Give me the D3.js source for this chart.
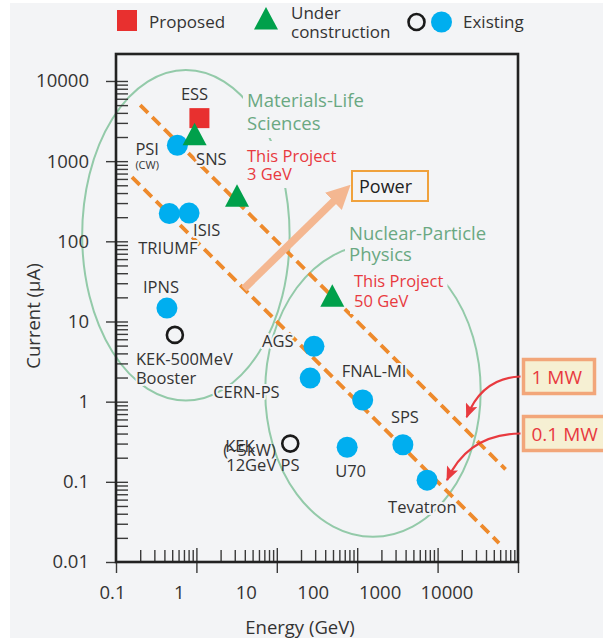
<!DOCTYPE html>
<html><head><meta charset="utf-8">
<script src="https://cdn.jsdelivr.net/npm/d3@7"></script>
<style>
body{margin:0;background:#fff}
svg{display:block}
text{font-family:"Open Sans","Noto Sans",sans-serif}
</style>
</head><body>
<svg id="chart" width="603" height="642"></svg>
<script>
// ---------------- DATA ----------------
// energy in GeV, current in microampere
const proposed = [{name:"ESS", energy:1.09, current:3440}];
const underConstruction = [
  {name:"SNS", energy:0.95, current:2170},
  {name:"J-PARC 3 GeV", energy:3.2, current:370},
  {name:"J-PARC 50 GeV", energy:49, current:21}
];
const existingFilled = [
  {name:"PSI", energy:0.58, current:1580},
  {name:"TRIUMF", energy:0.46, current:222},
  {name:"ISIS", energy:0.81, current:225},
  {name:"IPNS", energy:0.43, current:14.7},
  {name:"AGS", energy:29, current:4.9},
  {name:"CERN-PS", energy:26, current:1.97},
  {name:"FNAL-MI", energy:117, current:1.05},
  {name:"SPS", energy:370, current:0.29},
  {name:"U70", energy:75, current:0.27},
  {name:"Tevatron", energy:740, current:0.105}
];
const existingHollow = [
  {name:"KEK-500MeV Booster", energy:0.54, current:6.8},
  {name:"KEK-PS", energy:14.7, current:0.3}
];
const powerLevelsMW = [1, 0.1];
const powerLineSpanGeV = [[0.2, 7000], [0.158, 5800]];
const xTickValues = [0.1, 1, 10, 100, 1000, 10000];
const xTickLabels = ["0.1", "1", "10", "100", "1000", "10000"];
const yTickValues = [0.01, 0.1, 1, 10, 100, 1000, 10000];
const yTickLabels = ["0.01", "0.1", "1", "10", "100", "1000", "10000"];
const regions = [
  {name:"Materials-Life Sciences", energy:0.74, current:119, spanXDec:1.29, spanYDec:2.06},
  {name:"Nuclear-Particle Physics", energy:157, current:1.36, spanXDec:1.34, spanYDec:1.82}
];

// ---------------- LAYOUT / STYLE ----------------
const C = {
  bg:"#f3f4f6", ink:"#333", axis:"#222", blue:"#00aeef", green:"#00a04b", red:"#e8302f",
  orange:"#ee8a2c", ellipse:"#93caa9", greenText:"#6aa882", redText:"#e83a3f",
  powerArrow:"#f4b791", boxStroke:"#f2a67a", boxFill:"#f6f0d3"
};
const svg = d3.select("#chart");
const M = {left:116, right:518, top:54, bottom:562};
const x = d3.scaleLog().domain([0.1, 1e4]).range([M.left, M.right]);
const y = d3.scaleLog().domain([0.01, 21700]).range([M.bottom, M.top]);
// label row of the energy axis as printed in the figure
const xLab = d3.scaleLog().domain([0.1, 1e4]).range([112.5, 447]);

svg.append("rect").attr("x",10).attr("y",3).attr("width",593).attr("height",635).attr("fill",C.bg);

// defs for arrowheads
const defs = svg.append("defs");
defs.append("marker").attr("id","redHead").attr("viewBox","0 0 12 10").attr("refX",11).attr("refY",5)
  .attr("markerWidth",7).attr("markerHeight",5.5).attr("markerUnits","strokeWidth").attr("orient","auto")
  .append("path").attr("d","M0,0 L12,5 L0,10 L2.5,5 Z").attr("fill",C.redText);
defs.append("marker").attr("id","powHead").attr("viewBox","0 0 10 10").attr("refX",6).attr("refY",5)
  .attr("markerWidth",3.2).attr("markerHeight",3.2).attr("markerUnits","strokeWidth").attr("orient","auto")
  .append("path").attr("d","M0,0 L10,5 L0,10 Z").attr("fill",C.powerArrow);

// ---------------- ELLIPSES ----------------
svg.append("g").selectAll("ellipse").data(regions).join("ellipse")
  .attr("cx", d => x(d.energy)).attr("cy", d => y(d.current))
  .attr("rx", d => x(d.energy * Math.pow(10, d.spanXDec)) - x(d.energy))
  .attr("ry", d => y(d.current) - y(d.current * Math.pow(10, d.spanYDec)))
  .attr("fill","none").attr("stroke",C.ellipse).attr("stroke-width",2);

// ---------------- POWER LINES ----------------
const pLine = d3.line().x(d => x(d[0])).y(d => y(d[1]));
svg.append("g").selectAll("path").data(powerLevelsMW).join("path")
  .attr("d", (p,i) => pLine(powerLineSpanGeV[i].map(e => [e, p * 1000 / e])))
  .attr("fill","none").attr("stroke",C.orange).attr("stroke-width",3.8).attr("stroke-dasharray","11,6");

// power arrow
const powerArrow = [[3.9, 100/3.9], [68, 420]];
svg.append("path").attr("d", pLine(powerArrow)).attr("stroke",C.powerArrow).attr("stroke-width",7.5)
  .attr("fill","none").attr("marker-end","url(#powHead)");

// ---------------- TEXT BLOCKS WITH BACKGROUND ----------------
function block(lines, x0, y0, lh, size, color, pad){
  const g = svg.append("g");
  const r = g.append("rect").attr("fill",C.bg);
  const t = g.append("text").attr("x",x0).attr("y",y0).attr("font-size",size).attr("fill",color);
  lines.forEach((s,i) => t.append("tspan").attr("x",x0).attr("y",y0 + i*lh).text(s));
  const b = t.node().getBBox();
  r.attr("x",b.x-pad[0]).attr("y",b.y-pad[1]).attr("width",b.width+pad[0]*2).attr("height",b.height+pad[1]*2);
  return g;
}
block(["Materials-Life","Sciences"], 247, 107, 23, 18.5, C.greenText, [4,3]);
block(["This Project","3 GeV"], 247, 162, 18, 16.5, C.redText, [4,3]);
block(["Nuclear-Particle","Physics"], 349, 240, 21, 18.5, C.greenText, [4,3]);
block(["This Project","50 GeV"], 354, 287, 20, 16.5, C.redText, [4,2]);

// ---------------- POINT LABELS ----------------
const labelLayout = [
  {ref:"ESS", lines:["ESS"], dx:-18.5, dy:-18, halo:true},
  {ref:"PSI", lines:["PSI"], dx:-42, dy:10, halo:true},
  {ref:"SNS", lines:["SNS"], dx:1.5, dy:31, halo:true},
  {ref:"TRIUMF", lines:["TRIUMF"], dx:-31, dy:40, halo:true},
  {ref:"ISIS", lines:["ISIS"], dx:4, dy:23, halo:true},
  {ref:"IPNS", lines:["IPNS"], dx:-24, dy:-15, halo:true},
  {ref:"KEK-500MeV Booster", lines:["KEK-500MeV","Booster"], dx:-39, dy:30, halo:true},
  {ref:"AGS", lines:["AGS"], dx:-52, dy:1, halo:true},
  {ref:"CERN-PS", lines:["CERN-PS"], dx:-97, dy:20, halo:true},
  {ref:"FNAL-MI", lines:["FNAL-MI"], dx:-21, dy:-23, halo:true},
  {ref:"SPS", lines:["SPS"], dx:-12, dy:-22, halo:true},
  {ref:"U70", lines:["U70"], dx:-12, dy:30, halo:true},
  {ref:"Tevatron", lines:["Tevatron"], dx:-39, dy:33, halo:true},
  {ref:"KEK-PS", lines:["KEK"], dx:-65, dy:8, halo:false},
  {ref:"KEK-PS", lines:["(~5kW)"], dx:-67, dy:12, halo:false},
  {ref:"KEK-PS", lines:["12GeV PS"], dx:-64, dy:27, halo:false}
];
const allPts = [...proposed, ...underConstruction, ...existingFilled, ...existingHollow];
const byName = Object.fromEntries(allPts.map(d => [d.name, d]));
const lg = svg.append("g").attr("font-size",16.5).attr("fill",C.ink);
labelLayout.forEach(L => {
  const p = byName[L.ref];
  const px = x(p.energy) + L.dx, py = y(p.current) + L.dy;
  const t = lg.append("text").attr("x",px).attr("y",py);
  if (L.halo) t.attr("stroke",C.bg).attr("stroke-width",4).attr("paint-order","stroke").attr("stroke-linejoin","round");
  L.lines.forEach((s,i) => t.append("tspan").attr("x",px).attr("y",py + i*19).text(s));
});
lg.append("text").attr("x", x(byName["PSI"].energy) - 42).attr("y", y(byName["PSI"].current) + 24)
  .attr("font-size",11).text("(CW)");

// ---------------- MARKERS ----------------
const mk = svg.append("g");
mk.selectAll("circle.f").data(existingFilled).join("circle").attr("class","f")
  .attr("cx", d => x(d.energy)).attr("cy", d => y(d.current)).attr("r",10.5).attr("fill",C.blue);
mk.selectAll("circle.h").data(existingHollow).join("circle").attr("class","h")
  .attr("cx", d => x(d.energy)).attr("cy", d => y(d.current)).attr("r",8)
  .attr("fill","none").attr("stroke","#1a1a1a").attr("stroke-width",2.6);
mk.selectAll("rect").data(proposed).join("rect")
  .attr("x", d => x(d.energy) - 10).attr("y", d => y(d.current) - 10).attr("width",20).attr("height",20).attr("fill",C.red);
const tri = "M0,-11.5L12,11L-12,11Z";
mk.selectAll("path").data(underConstruction).join("path")
  .attr("d",tri).attr("transform", d => `translate(${x(d.energy)},${y(d.current)})`).attr("fill",C.green);

// ---------------- AXES ----------------
const decadesX = [0.1, 1, 10, 100, 1000];
const minorX = decadesX.flatMap(d => d3.range(2,10).map(k => d*k));
const decadesY = [0.01, 0.1, 1, 10, 100, 1000];
const minorY = decadesY.flatMap(d => d3.range(2,10).map(k => d*k));
const ax = svg.append("g").attr("color","#3a3a3a");
function strip(g){ g.select(".domain").remove(); g.selectAll("text").remove(); g.selectAll("line").attr("stroke-width",1.4); }
ax.append("g").attr("transform",`translate(0,${M.bottom})`)
  .call(d3.axisBottom(x).tickValues(minorX).tickSize(-12).tickFormat("")).call(strip);
ax.append("g").attr("transform",`translate(0,${M.bottom})`)
  .call(d3.axisBottom(x).tickValues([1,10,100,1000]).tickSize(-14).tickFormat("")).call(strip);
ax.append("g").attr("transform",`translate(0,${M.bottom})`)
  .call(d3.axisBottom(x).tickValues(xTickValues).tickSize(11).tickFormat("")).call(strip);
ax.append("g").attr("transform",`translate(${M.left},0)`)
  .call(d3.axisLeft(y).tickValues(minorY).tickSize(-12).tickFormat("")).call(strip);
ax.append("g").attr("transform",`translate(${M.left},0)`)
  .call(d3.axisLeft(y).tickValues([0.1,1,10,100,1000,10000]).tickSize(-12).tickFormat("")).call(strip);
ax.append("g").attr("transform",`translate(${M.left},0)`)
  .call(d3.axisLeft(y).tickValues(yTickValues).tickSize(10).tickFormat("")).call(strip);

svg.append("rect").attr("x",M.left).attr("y",M.top).attr("width",M.right-M.left).attr("height",M.bottom-M.top)
  .attr("fill","none").attr("stroke",C.axis).attr("stroke-width",2.6);

svg.append("g").attr("font-size",18.5).attr("fill",C.ink).attr("text-anchor","middle")
  .selectAll("text").data(xTickValues).join("text")
  .attr("x", d => xLab(d)).attr("y", 599).text((d,i) => xTickLabels[i]);
svg.append("g").attr("font-size",18.5).attr("fill",C.ink).attr("text-anchor","end")
  .selectAll("text").data(yTickValues).join("text")
  .attr("x", 89).attr("y", d => y(d)).attr("dy","0.35em").text((d,i) => yTickLabels[i]);

svg.append("text").attr("x",300).attr("y",634).attr("text-anchor","middle").attr("font-size",18.5)
  .attr("fill",C.ink).text("Energy (GeV)");
svg.append("text").attr("transform","translate(34,316) rotate(-90)").attr("text-anchor","middle")
  .attr("dy","0.35em").attr("font-size",18.5).attr("fill",C.ink).text("Current (\u03bcA)");

// ---------------- POWER BOX & MW CALLOUTS ----------------
svg.append("rect").attr("x",352).attr("y",171).attr("width",76).attr("height",30)
  .attr("fill","none").attr("stroke","#f0a23d").attr("stroke-width",2);
svg.append("text").attr("x",359).attr("y",193).attr("font-size",18).attr("fill","#222").text("Power");

const callouts = [
  {text:"1 MW", bx:523.5, by:359.5, bw:71, tipE:2300, tipI:0.64, cx:482, cy:378},
  {text:"0.1 MW", bx:523.5, by:416.5, bw:92, tipE:1310, tipI:0.105, cx:468, cy:434}
];
callouts.forEach(c => {
  svg.append("rect").attr("x",c.bx).attr("y",c.by).attr("width",c.bw).attr("height",34)
    .attr("fill",C.boxFill).attr("stroke",C.boxStroke).attr("stroke-width",3.5);
  svg.append("text").attr("x",c.bx+8).attr("y",c.by+24.5).attr("font-size",19).attr("fill",C.redText).text(c.text);
  const sx = c.bx - 3, sy = c.by + 17, tx = x(c.tipE), ty = y(c.tipI);
  svg.append("path").attr("d",`M${sx},${sy} Q${c.cx},${c.cy} ${tx},${ty}`)
    .attr("fill","none").attr("stroke",C.redText).attr("stroke-width",2.2).attr("marker-end","url(#redHead)");
});

// ---------------- LEGEND ----------------
const leg = svg.append("g");
leg.append("rect").attr("x",117).attr("y",10).attr("width",20).attr("height",21).attr("fill",C.red);
leg.append("text").attr("x",149).attr("y",28).attr("font-size",17).attr("fill",C.ink).text("Proposed");
leg.append("path").attr("d",tri).attr("transform","translate(266,18.5)").attr("fill",C.green);
leg.append("text").attr("x",291).attr("y",19).attr("font-size",17).attr("fill",C.ink).text("Under");
leg.append("text").attr("x",291).attr("y",38).attr("font-size",17).attr("fill",C.ink).text("construction");
leg.append("circle").attr("cx",416.5).attr("cy",22).attr("r",8).attr("fill","none").attr("stroke","#1a1a1a").attr("stroke-width",2.6);
leg.append("circle").attr("cx",441.5).attr("cy",22).attr("r",10.5).attr("fill",C.blue);
leg.append("text").attr("x",463).attr("y",28).attr("font-size",17).attr("fill",C.ink).text("Existing");
</script>
</body></html>
